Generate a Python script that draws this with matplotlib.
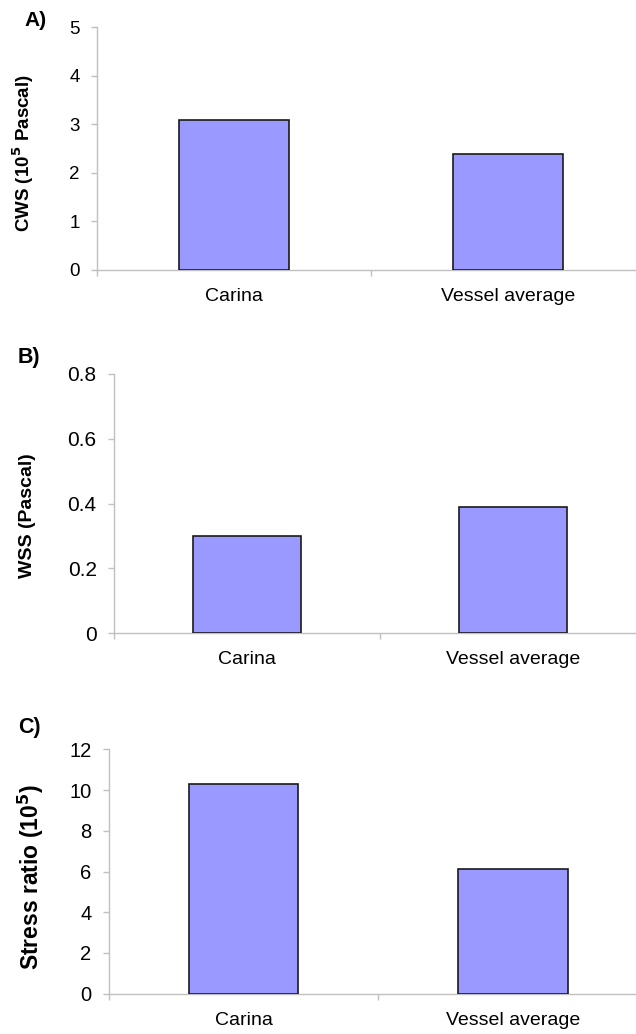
import matplotlib
matplotlib.use("Agg")
import matplotlib.pyplot as plt

plt.rcParams["font.family"] = ["Liberation Sans", "DejaVu Sans"]

categories = ["Carina", "Vessel average"]
cws = [3.08, 2.38]          # 10^5 Pascal
wss = [0.30, 0.39]          # Pascal
stress_ratio = [10.3, 6.12]  # 10^5

cws_ticks = [0, 1, 2, 3, 4, 5]
wss_ticks = [0, 0.2, 0.4, 0.6, 0.8]
wss_ticklabels = ["0", "0.2", "0.4", "0.6", "0.8"]
ratio_ticks = [0, 2, 4, 6, 8, 10, 12]

W, H = 636, 1034
BAR = "#9999ff"
AXIS = "#c0c0c0"


def px_axes(fig, left, right, top, bottom):
    # axes rectangle given in pixel coords measured from the top-left corner
    return fig.add_axes([left / W, (H - bottom) / H, (right - left) / W, (bottom - top) / H])


def panel(ax, values, yticks, yticklabels, ytick_size):
    xs = [i + 0.5 for i in range(len(values))]
    ax.bar(xs, values, width=0.405, color=BAR, edgecolor="#1a1a1a", linewidth=1.2, zorder=3)
    ax.set_xlim(0, len(values))
    ax.set_ylim(yticks[0], yticks[-1])
    ax.set_yticks(yticks)
    ax.set_yticklabels(yticklabels, fontsize=ytick_size)
    # category separators as major ticks, names on minor ticks
    ax.set_xticks(range(len(values) + 1))
    ax.set_xticklabels([])
    ax.set_xticks(xs, minor=True)
    ax.set_xticklabels(categories, minor=True, fontsize=14)
    ax.tick_params(axis="x", which="major", direction="out", length=4, width=1, color=AXIS)
    ax.tick_params(axis="x", which="minor", length=0, pad=13)
    ax.tick_params(axis="y", direction="out", length=4.5, width=1, color=AXIS, pad=8)
    for side in ("top", "right"):
        ax.spines[side].set_visible(False)
    for side in ("left", "bottom"):
        ax.spines[side].set_color(AXIS)
        ax.spines[side].set_linewidth(1.0)


fig = plt.figure(figsize=(W / 100, H / 100), dpi=100)

ax_a = px_axes(fig, 97, 645, 27, 270)
panel(ax_a, cws, cws_ticks, [str(t) for t in cws_ticks], 13.5)
ax_b = px_axes(fig, 114, 646, 373.7, 633.3)
panel(ax_b, wss, wss_ticks, wss_ticklabels, 15)
ax_c = px_axes(fig, 108.7, 647.7, 749.3, 993.7)
panel(ax_c, stress_ratio, ratio_ticks, [str(t) for t in ratio_ticks], 14.5)

# y-axis titles and panel letters
fig.text(23 / W, 1 - 153 / H, r"CWS (10$^\mathbf{5}$ Pascal)", rotation=90,
         ha="center", va="center", fontsize=13.5, fontweight="bold")
fig.text(28 / W, 1 - 516 / H, "WSS (Pascal)", rotation=90,
         ha="center", va="center", fontsize=14, fontweight="bold")
fig.text(31 / W, 1 - 877 / H, r"Stress ratio (10$^\mathbf{5}$)", rotation=90,
         ha="center", va="center", fontsize=16.5, fontweight="bold")

fig.text(36 / W, 1 - 21 / H, "A)", ha="center", va="center", fontsize=15, fontweight="bold")
fig.text(29 / W, 1 - 357 / H, "B)", ha="center", va="center", fontsize=15.5, fontweight="bold")
fig.text(29 / W, 1 - 727 / H, "C)", ha="center", va="center", fontsize=15.5, fontweight="bold")

fig.savefig("out.png", dpi=100)
